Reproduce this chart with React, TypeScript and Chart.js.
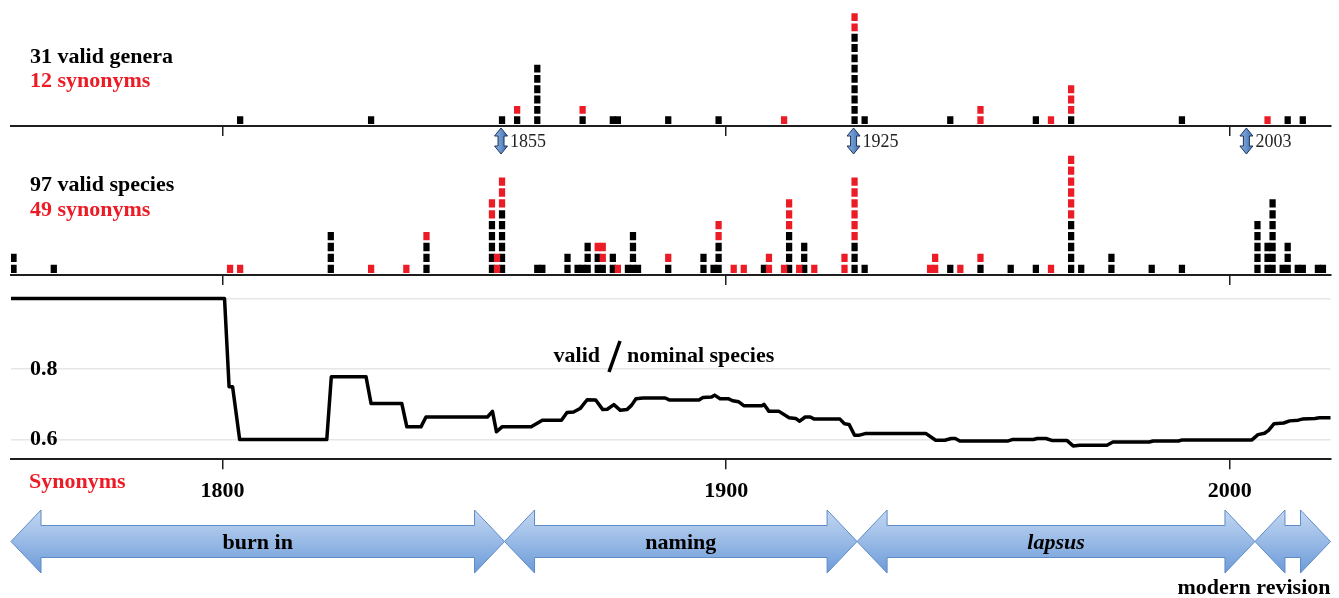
import React, { useEffect, useRef } from 'react';
import { Chart, registerables } from 'chart.js';

Chart.register(...registerables);

// ---------------- data ----------------
const X_MIN = 1758;
const X_MAX = 2020;
const AXIS_YEARS = [1800, 1900, 2000];

const generaYears = [1803, 1829, 1855, 1858, 1862, 1871, 1877, 1878, 1888, 1898, 1911, 1925, 1927, 1944, 1950, 1961, 1964, 1968, 1990, 2007, 2011, 2014];
const generaValid = [1, 1, 1, 1, 6, 1, 1, 1, 1, 1, 0, 9, 1, 1, 0, 1, 0, 1, 1, 0, 1, 1];
const generaSynonyms = [0, 0, 0, 1, 0, 1, 0, 0, 0, 0, 1, 2, 0, 0, 2, 0, 1, 3, 0, 1, 0, 0];

const speciesYears = [1758, 1766, 1801, 1803, 1821, 1829, 1836, 1840, 1853, 1854, 1855, 1862, 1863, 1868, 1870, 1871, 1872, 1874, 1875, 1877, 1878, 1880, 1881, 1882, 1888, 1895, 1897, 1898, 1901, 1903, 1907, 1908, 1911, 1912, 1914, 1915, 1917, 1923, 1925, 1927, 1940, 1941, 1944, 1946, 1950, 1956, 1961, 1964, 1968, 1970, 1976, 1984, 1990, 2005, 2007, 2008, 2010, 2011, 2013, 2014, 2017, 2018];
const speciesValid = [2, 1, 0, 0, 4, 0, 0, 3, 5, 0, 6, 1, 1, 2, 1, 1, 3, 2, 1, 2, 0, 1, 4, 1, 1, 2, 1, 3, 0, 0, 1, 0, 0, 4, 0, 3, 0, 0, 3, 1, 0, 0, 1, 0, 1, 1, 1, 0, 5, 1, 2, 1, 1, 5, 3, 7, 1, 3, 1, 1, 1, 1];
const speciesSynonyms = [0, 0, 1, 1, 0, 1, 1, 1, 2, 2, 3, 0, 0, 0, 0, 0, 0, 1, 2, 0, 1, 0, 0, 0, 1, 0, 0, 2, 1, 1, 0, 2, 1, 3, 1, 0, 1, 2, 6, 0, 1, 2, 0, 1, 1, 0, 0, 1, 6, 0, 0, 0, 0, 0, 0, 0, 0, 0, 0, 0, 0, 0];

const ratioYears = [1758, 1800.4, 1801.3, 1802, 1803.4, 1820.7, 1821.6, 1828.5, 1829.5, 1835.6, 1836.6, 1839.4, 1840.4, 1852.6, 1853.6, 1854.4, 1855.5, 1861.3, 1863.5, 1867.3, 1868.4, 1869.7, 1871, 1872.4, 1874.1, 1875.5, 1876.4, 1877.7, 1879, 1880.3, 1881.2, 1882.1, 1883.5, 1887.9, 1888.8, 1894.6, 1895.4, 1897.1, 1897.7, 1898.8, 1900.4, 1901.3, 1902.5, 1903.5, 1907.1, 1907.5, 1908.5, 1910.5, 1912.5, 1913.8, 1914.6, 1915.7, 1916.7, 1917.5, 1922.6, 1923.5, 1924.4, 1925.5, 1926.3, 1927.6, 1939.7, 1941.6, 1943.4, 1944.7, 1945.5, 1946.4, 1956, 1956.8, 1961, 1961.8, 1963.5, 1964.8, 1967.7, 1968.9, 1970.2, 1975.6, 1976.8, 1984, 1984.8, 1989.8, 1990.6, 2004.4, 2005.6, 2006.9, 2007.7, 2008.8, 2010.7, 2011.9, 2013.6, 2014.4, 2016.9, 2017.8, 2020];
const ratioValues = [1.0, 1.0, 0.75, 0.75, 0.6, 0.6, 0.778, 0.778, 0.702, 0.702, 0.636, 0.636, 0.664, 0.664, 0.68, 0.622, 0.636, 0.636, 0.655, 0.655, 0.677, 0.678, 0.688, 0.713, 0.712, 0.685, 0.686, 0.699, 0.683, 0.685, 0.697, 0.716, 0.718, 0.718, 0.712, 0.712, 0.719, 0.721, 0.726, 0.716, 0.716, 0.71, 0.707, 0.696, 0.696, 0.7, 0.68, 0.68, 0.662, 0.66, 0.652, 0.664, 0.664, 0.658, 0.658, 0.645, 0.643, 0.612, 0.612, 0.617, 0.617, 0.598, 0.598, 0.603, 0.603, 0.596, 0.596, 0.6, 0.6, 0.603, 0.603, 0.597, 0.597, 0.582, 0.584, 0.584, 0.593, 0.593, 0.596, 0.596, 0.599, 0.599, 0.614, 0.618, 0.626, 0.645, 0.647, 0.653, 0.655, 0.658, 0.66, 0.662, 0.662];
const ratioTicks = [0.6, 0.8, 1.0];

const markerYears = [1855, 1925, 2003];
const periodBounds = [1758, 1856, 1926, 2005, 2020];
const periodLabels = ['burn in', 'naming', 'lapsus', ''];
const periodItalic = [false, false, true, false];

// ---------------- styling / layout ----------------
const W = 1339;
const H = 598;
const FONT = "'Liberation Serif', 'Times New Roman', serif";
const RED = '#ec1c26';
const PAD_L = 11;
const PAD_R = 8.5;

const sum = (a: number[]) => a.reduce((s, v) => s + v, 0);

function stackUnits(years: number[], valid: number[], syn: number[], which: 'valid' | 'syn') {
  const out: any[] = [];
  years.forEach((yr, i) => {
    const start = which === 'valid' ? 0 : valid[i];
    const n = which === 'valid' ? valid[i] : syn[i];
    for (let k = 0; k < n; k++) out.push({ x: yr + 0.5, y: [start + k + 0.22, start + k + 0.92] });
  });
  return out;
}

function xScale(labels: boolean, axisH: number): any {
  return {
    type: 'linear',
    min: X_MIN,
    max: X_MAX,
    offset: false,
    afterBuildTicks: (s: any) => {
      s.ticks = AXIS_YEARS.map((v) => ({ value: v }));
    },
    afterFit: (s: any) => {
      s.height = axisH;
    },
    border: { display: true, color: '#1e1e1e', width: 2 },
    grid: { drawOnChartArea: false, drawTicks: true, tickLength: 10, color: '#1e1e1e', lineWidth: 1.5, offset: false },
    ticks: labels
      ? {
          display: true,
          padding: 9,
          color: '#000',
          autoSkip: false,
          maxRotation: 0,
          font: { family: FONT, size: 22, weight: 'bold' },
          callback: (v: any) => String(v),
        }
      : { display: false },
  };
}

function drawDoubleArrow(ctx: CanvasRenderingContext2D, cx: number, y0: number, y1: number) {
  const hw = 6.5, sw = 3, hh = 8;
  ctx.beginPath();
  ctx.moveTo(cx, y0);
  ctx.lineTo(cx + hw, y0 + hh);
  ctx.lineTo(cx + sw, y0 + hh);
  ctx.lineTo(cx + sw, y1 - hh);
  ctx.lineTo(cx + hw, y1 - hh);
  ctx.lineTo(cx, y1);
  ctx.lineTo(cx - hw, y1 - hh);
  ctx.lineTo(cx - sw, y1 - hh);
  ctx.lineTo(cx - sw, y0 + hh);
  ctx.lineTo(cx - hw, y0 + hh);
  ctx.closePath();
  const g = ctx.createLinearGradient(cx - hw, 0, cx + hw, 0);
  g.addColorStop(0, '#8fb4e6');
  g.addColorStop(1, '#3f6fb0');
  ctx.fillStyle = g;
  ctx.fill();
  ctx.strokeStyle = '#1b3558';
  ctx.lineWidth = 1;
  ctx.stroke();
}

function drawBlockArrow(ctx: CanvasRenderingContext2D, xl: number, xr: number) {
  const yc = 541.5, hh = 31.5, sh = 16;
  const hl = Math.min(30, (xr - xl) / 2 - 5);
  ctx.beginPath();
  ctx.moveTo(xl, yc);
  ctx.lineTo(xl + hl, yc - hh);
  ctx.lineTo(xl + hl, yc - sh);
  ctx.lineTo(xr - hl, yc - sh);
  ctx.lineTo(xr - hl, yc - hh);
  ctx.lineTo(xr, yc);
  ctx.lineTo(xr - hl, yc + hh);
  ctx.lineTo(xr - hl, yc + sh);
  ctx.lineTo(xl + hl, yc + sh);
  ctx.lineTo(xl + hl, yc + hh);
  ctx.closePath();
  const g = ctx.createLinearGradient(0, yc - hh, 0, yc + hh);
  g.addColorStop(0, '#c3d7f1');
  g.addColorStop(0.45, '#9dbde7');
  g.addColorStop(1, '#6b9bd8');
  ctx.fillStyle = g;
  ctx.fill();
  ctx.strokeStyle = '#5d8bc7';
  ctx.lineWidth = 1;
  ctx.stroke();
}

const baseOptions = (padTop: number, axisY: number, axisH: number): any => ({
  responsive: false,
  animation: false,
  devicePixelRatio: 1,
  events: [],
  layout: { autoPadding: false, padding: { left: PAD_L, right: PAD_R, top: padTop, bottom: H - axisY - axisH } },
  plugins: { legend: { display: false }, tooltip: { enabled: false }, title: { display: false } },
});

function barConfig(years: number[], valid: number[], syn: number[], axisY: number, unit: number, maxUnits: number, textPlugin: any): any {
  const axisH = 12;
  return {
    type: 'bar',
    data: {
      datasets: [
        { label: 'synonyms', data: stackUnits(years, valid, syn, 'syn'), backgroundColor: RED, barThickness: 5.6, grouped: false, borderWidth: 0 },
        { label: 'valid', data: stackUnits(years, valid, syn, 'valid'), backgroundColor: '#000', barThickness: 5.6, grouped: false, borderWidth: 0 },
      ],
    },
    options: {
      ...baseOptions(axisY - unit * maxUnits, axisY, axisH),
      scales: {
        x: xScale(false, axisH),
        y: { type: 'linear', display: false, min: 0, max: maxUnits },
      },
    },
    plugins: [textPlugin],
  };
}

export default function App() {
  const gRef = useRef<HTMLCanvasElement>(null);
  const sRef = useRef<HTMLCanvasElement>(null);
  const rRef = useRef<HTMLCanvasElement>(null);

  useEffect(() => {
    const generaText = {
      id: 'generaText',
      afterDraw(chart: any) {
        const ctx = chart.ctx as CanvasRenderingContext2D;
        ctx.save();
        ctx.textAlign = 'left';
        ctx.textBaseline = 'alphabetic';
        ctx.font = `bold 22px ${FONT}`;
        ctx.fillStyle = '#000';
        ctx.fillText(`${sum(generaValid)} valid genera`, 30, 63);
        ctx.fillStyle = RED;
        ctx.fillText(`${sum(generaSynonyms)} synonyms`, 30, 87);
        const xs = chart.scales.x;
        markerYears.forEach((yr) => {
          const cx = xs.getPixelForValue(yr + 0.3);
          drawDoubleArrow(ctx, cx, 128, 154);
          ctx.font = `18px ${FONT}`;
          ctx.fillStyle = '#222';
          ctx.fillText(String(yr), cx + 9, 147);
        });
        ctx.restore();
      },
    };

    const speciesText = {
      id: 'speciesText',
      afterDraw(chart: any) {
        const ctx = chart.ctx as CanvasRenderingContext2D;
        ctx.save();
        ctx.textAlign = 'left';
        ctx.textBaseline = 'alphabetic';
        ctx.font = `bold 22px ${FONT}`;
        ctx.fillStyle = '#000';
        ctx.fillText(`${sum(speciesValid)} valid species`, 30, 191);
        ctx.fillStyle = RED;
        ctx.fillText(`${sum(speciesSynonyms)} synonyms`, 30, 216);
        ctx.restore();
      },
    };

    const ratioDecor = {
      id: 'ratioDecor',
      afterDraw(chart: any) {
        const ctx = chart.ctx as CanvasRenderingContext2D;
        const xs = chart.scales.x;
        ctx.save();
        ctx.textBaseline = 'alphabetic';
        ctx.font = `bold 22px ${FONT}`;
        ctx.fillStyle = RED;
        ctx.textAlign = 'left';
        ctx.fillText('Synonyms', 29, 488);

        // series label
        ctx.fillStyle = '#000';
        ctx.textAlign = 'right';
        ctx.fillText('valid', 600, 362);
        ctx.textAlign = 'left';
        ctx.fillText('nominal species', 627, 362);
        ctx.beginPath();
        ctx.moveTo(609, 372);
        ctx.lineTo(620, 341);
        ctx.lineWidth = 3.5;
        ctx.strokeStyle = '#000';
        ctx.stroke();

        // period arrows
        for (let i = 0; i < periodBounds.length - 1; i++) {
          const xl = xs.getPixelForValue(periodBounds[i]);
          const xr = xs.getPixelForValue(periodBounds[i + 1]);
          drawBlockArrow(ctx, xl, xr);
          if (periodLabels[i]) {
            ctx.font = `${periodItalic[i] ? 'italic ' : ''}bold 22px ${FONT}`;
            ctx.fillStyle = '#000';
            ctx.textAlign = 'center';
            ctx.fillText(periodLabels[i], (xl + xr) / 2, 549);
          }
        }
        ctx.font = `bold 22px ${FONT}`;
        ctx.textAlign = 'right';
        ctx.fillStyle = '#000';
        ctx.fillText('modern revision', xs.getPixelForValue(periodBounds[periodBounds.length - 1]), 594);
        ctx.restore();
      },
    };

    const genera = new Chart(gRef.current as any, barConfig(generaYears, generaValid, generaSynonyms, 126, 10.3, 12, generaText));
    const species = new Chart(sRef.current as any, barConfig(speciesYears, speciesValid, speciesSynonyms, 275, 10.9, 11.5, speciesText));

    const rAxisY = 459.3;
    const rAxisH = 48;
    const rMin = 0.544;
    const rMax = 1.02;
    const rPx = 352.5;
    const ratio = new Chart(rRef.current as any, {
      type: 'line',
      data: {
        datasets: [
          {
            label: 'valid / nominal species',
            data: ratioYears.map((x, i) => ({ x, y: ratioValues[i] })),
            borderColor: '#000',
            borderWidth: 3.5,
            borderJoinStyle: 'round',
            borderCapStyle: 'round',
            pointRadius: 0,
            tension: 0,
            fill: false,
          },
        ],
      },
      options: {
        ...baseOptions(rAxisY - (rMax - rMin) * rPx, rAxisY, rAxisH),
        scales: {
          x: xScale(true, rAxisH),
          y: {
            type: 'linear',
            min: rMin,
            max: rMax,
            afterBuildTicks: (s: any) => {
              s.ticks = ratioTicks.map((v) => ({ value: v }));
            },
            afterFit: (s: any) => {
              s.width = 0;
            },
            border: { display: false },
            grid: { color: '#e6e6e6', lineWidth: 1.5, drawTicks: false },
            ticks: {
              mirror: true,
              padding: 19,
              color: '#000',
              font: { family: FONT, size: 22, weight: 'bold' },
              callback: (v: any) => (Math.abs(v - 1) < 1e-9 ? '' : Number(v).toFixed(1)),
            },
          },
        },
      } as any,
      plugins: [ratioDecor],
    } as any);

    return () => {
      genera.destroy();
      species.destroy();
      ratio.destroy();
    };
  }, []);

  const cs: React.CSSProperties = { position: 'absolute', left: 0, top: 0, width: W, height: H };
  return (
    <div style={{ position: 'fixed', left: 0, top: 0, width: W, height: H, background: '#fff', overflow: 'hidden' }}>
      <canvas ref={gRef} width={W} height={H} style={cs} />
      <canvas ref={sRef} width={W} height={H} style={cs} />
      <canvas ref={rRef} width={W} height={H} style={cs} />
    </div>
  );
}
